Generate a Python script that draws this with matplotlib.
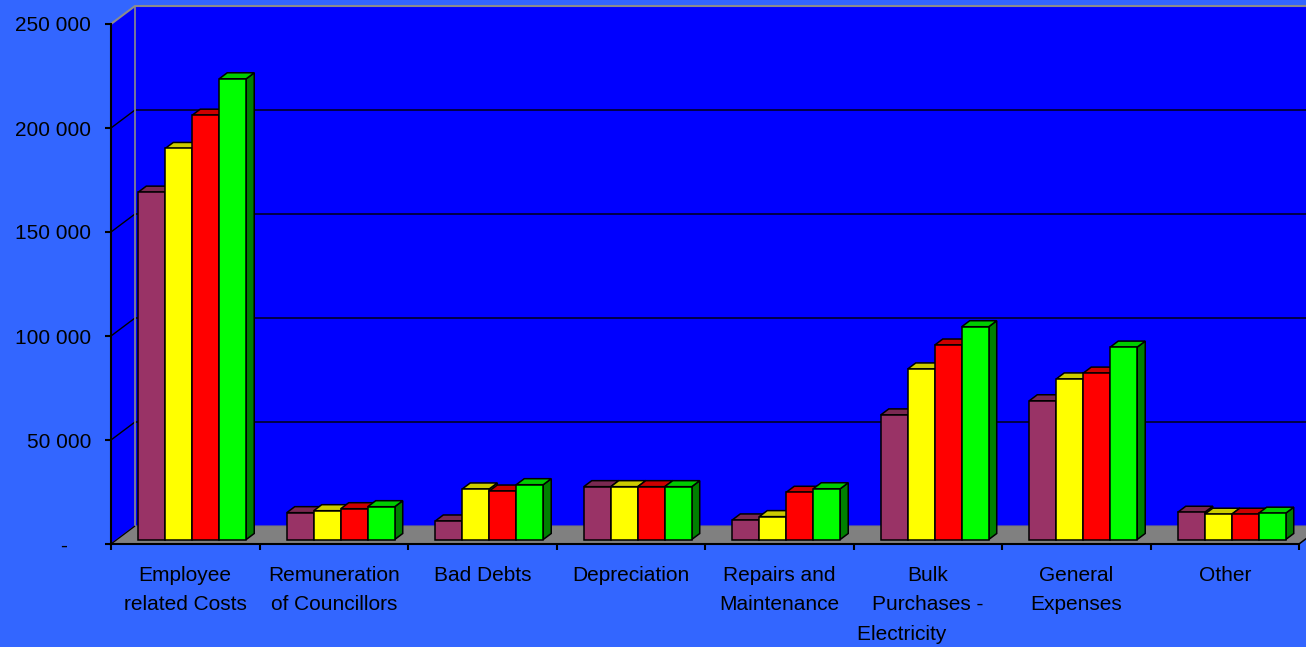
import matplotlib
matplotlib.use("Agg")
import matplotlib.pyplot as plt
from matplotlib.patches import Polygon
from matplotlib.transforms import ScaledTranslation

# ---- data -------------------------------------------------------------
categories = [
    "Employee\nrelated Costs",
    "Remuneration\nof Councillors",
    "Bad Debts",
    "Depreciation",
    "Repairs and\nMaintenance",
    "Bulk\nPurchases -\nElectricity         ",
    "General\nExpenses",
    "Other",
]
series_1 = [167000, 12900, 8900, 25400, 9400, 59900, 66700, 13100]
series_2 = [188000, 13850, 24300, 25400, 11000, 82000, 77200, 12150]
series_3 = [204000, 14800, 23300, 25400, 22700, 93500, 80000, 12150]
series_4 = [221500, 15770, 26350, 25400, 24400, 102300, 92500, 12650]
y_ticks = [0, 50000, 100000, 150000, 200000, 250000]
y_tick_labels = ["-", "50 000", "100 000", "150 000", "200 000", "250 000"]

# ---- styling ----------------------------------------------------------
plt.rcParams["font.family"] = ["Liberation Sans", "DejaVu Sans"]
FIG_BG = "#3366FF"
WALL = "#0000FF"
FLOOR = "#808080"
front_colors = ["#993366", "#FFFF00", "#FF0000", "#00FF00"]
top_colors = ["#7A2952", "#CCCC00", "#CC0000", "#00CC00"]
side_colors = ["#4D1A33", "#808000", "#800000", "#008000"]
FONT_SIZE = 15

W_PX, H_PX = 1306, 647
fig = plt.figure(figsize=(W_PX / 100, H_PX / 100), dpi=100, facecolor=FIG_BG)
ax = fig.add_axes([111 / W_PX, (H_PX - 544) / H_PX, 1188 / W_PX, 520 / H_PX])
n = len(categories)
ymax = y_ticks[-1]
ax.set_xlim(0, n)
ax.set_ylim(0, ymax)
ax.patch.set_visible(False)

# pixel -> data unit factors for the oblique depth offsets
ux = n / 1188.0
uy = ymax / 520.0
wall_dx, wall_dy = 24 * ux, 18 * uy          # full depth of the box
bar_dx0, bar_dy0 = 7 * ux, 4.5 * uy           # front face of the bars
bar_ddx, bar_ddy = 8 * ux, 6 * uy             # depth of each bar

def poly(pts, fc, ec="none", lw=0.0, z=1):
    ax.add_patch(Polygon(pts, closed=True, facecolor=fc, edgecolor=ec,
                         linewidth=lw, zorder=z, clip_on=False))

def line(xs, ys, color="black", lw=0.9, z=2):
    ax.plot(xs, ys, color=color, linewidth=lw, zorder=z, clip_on=False,
            solid_capstyle="butt")

right = n + wall_dx + 1
# side wall and back wall
poly([(0, 0), (wall_dx, wall_dy), (wall_dx, ymax + wall_dy), (0, ymax)], WALL, z=0)
poly([(wall_dx, wall_dy), (right, wall_dy), (right, ymax + wall_dy),
      (wall_dx, ymax + wall_dy)], WALL, z=0)
# floor
poly([(0, 0), (n, 0), (n + wall_dx, wall_dy), (wall_dx, wall_dy)], FLOOR,
     ec="#7A7A7A", lw=0.8, z=1)
line([0, wall_dx], [0, wall_dy], color="black", lw=0.9, z=2)
line([n, n + wall_dx], [0, wall_dy], color="black", lw=1.1, z=2)

# gridlines running over side wall and back wall
for t in y_ticks[1:-1]:
    line([0, wall_dx, right], [t, t + wall_dy, t + wall_dy], lw=1.0, z=1.5)
line([0, wall_dx, right], [ymax, ymax + wall_dy, ymax + wall_dy],
     color="#8C8C8C", lw=1.5, z=1.5)
line([wall_dx, wall_dx], [wall_dy, ymax + wall_dy], color="#8C8C8C", lw=1.2, z=1.5)

# 3-D style clustered columns
series = [series_1, series_2, series_3, series_4]
group_w = 0.727
bar_w = group_w / len(series)
z = 3
for i in range(n):
    start = i + (1 - group_w) / 2
    for j, vals in enumerate(series):
        v = vals[i]
        x0 = start + j * bar_w + bar_dx0
        x1 = x0 + bar_w
        b = bar_dy0
        t = v + bar_dy0
        edge = dict(ec="black", lw=1.1)
        # right side face
        poly([(x1, b), (x1 + bar_ddx, b + bar_ddy), (x1 + bar_ddx, t + bar_ddy),
              (x1, t)], side_colors[j], z=z, **edge)
        # top face
        poly([(x0, t), (x1, t), (x1 + bar_ddx, t + bar_ddy),
              (x0 + bar_ddx, t + bar_ddy)], top_colors[j], z=z, **edge)
        # front face
        poly([(x0, b), (x1, b), (x1, t), (x0, t)], front_colors[j], z=z + 0.5, **edge)
        z += 1

# axes, ticks and labels
for s in ("top", "right"):
    ax.spines[s].set_visible(False)
for s in ("left", "bottom"):
    ax.spines[s].set_color("black")
    ax.spines[s].set_linewidth(1.5)
    ax.spines[s].set_zorder(200)

ax.set_yticks(y_ticks, y_tick_labels)
ax.tick_params(axis="y", direction="out", length=4.3, width=1.5, pad=10,
               labelsize=FONT_SIZE, colors="black")
ax.set_xticks(range(n + 1), [""] * (n + 1))
ax.tick_params(axis="x", which="major", direction="out", length=4.3, width=1.5)
ax.set_xticks([i + 0.5 for i in range(n)], categories, minor=True)
ax.tick_params(axis="x", which="minor", length=0, pad=15.5, labelsize=FONT_SIZE)
for lbl in ax.get_xticklabels(minor=True):
    lbl.set_linespacing(1.72)
    lbl.set_verticalalignment("top")

# the zero label sits further left, as in accounting number format
zero_lbl = ax.get_yticklabels()[0]
zero_lbl.set_transform(zero_lbl.get_transform()
                       + ScaledTranslation(-0.24, 0, fig.dpi_scale_trans))

fig.savefig("out.png", dpi=100, facecolor=FIG_BG)
